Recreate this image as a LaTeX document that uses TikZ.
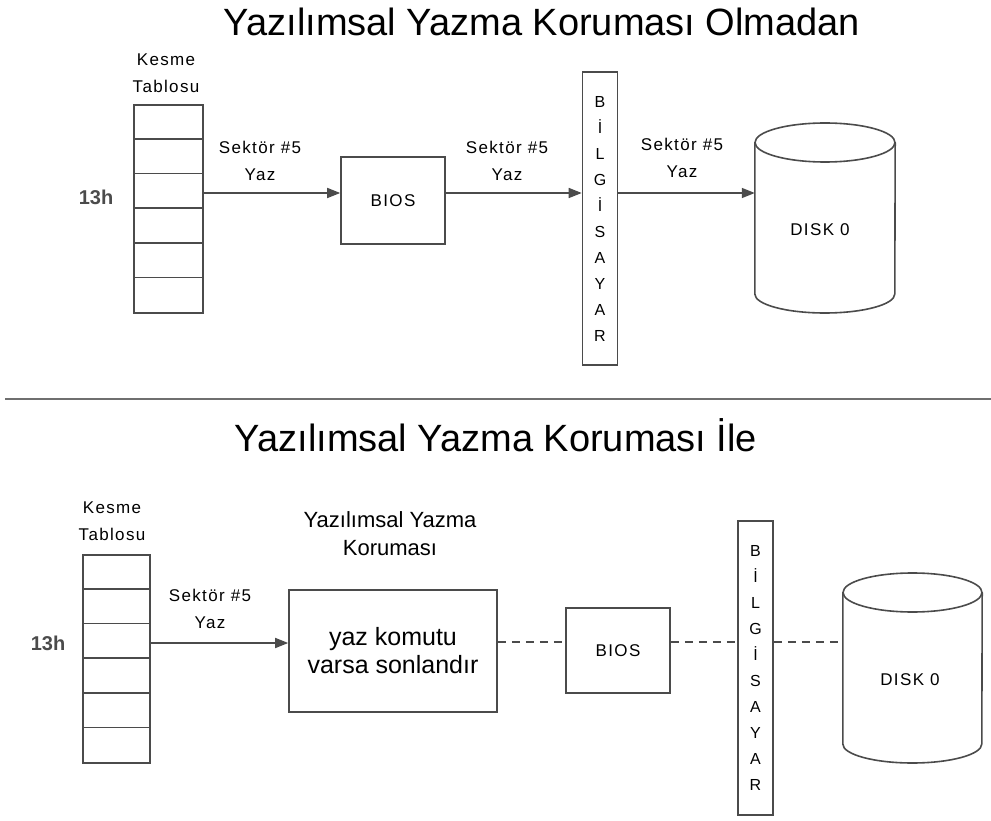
\documentclass[tikz,border=0pt]{standalone}
\usepackage{fontspec}
\setmainfont{Liberation Sans}
\newfontfamily\lsfont[LetterSpace=8]{Liberation Sans}
\usetikzlibrary{arrows.meta}
\definecolor{ln}{RGB}{75,75,75}
\begin{document}
\begin{tikzpicture}[x=1pt,y=-1pt,
  box/.style={draw=ln,line width=1.6pt,rectangle,inner sep=0pt},
  lbl/.style={font=\lsfont\fontsize{17}{27}\selectfont,align=center,inner sep=0pt},
  barstyle/.style={box,minimum width=35pt,font=\lsfont\fontsize{16}{26}\selectfont,align=center},
  title/.style={anchor=base,font=\fontsize{38}{40}\selectfont,inner sep=0pt},
  conn/.style={draw=ln,line width=1.6pt},
  arr/.style={conn,-{Triangle[length=13pt,width=10pt]}},
  dashconn/.style={conn,dash pattern=on 8pt off 6pt},
  hnum/.style={font=\bfseries\fontsize{20}{24}\selectfont,inner sep=0pt,text=ln}
]
\useasboundingbox (0,0) rectangle (991,821);

% ---------------- top part ----------------
\node[title] (t1) at (542,36) {Yazılımsal Yazma Koruması Olmadan};

\node[lbl] (kt1) at (166,73) {Kesme\\Tablosu};
\node[box,minimum width=69pt,minimum height=208pt] (tab1) at (168.5,209) {};
\foreach \i in {1,...,5}
  \draw[conn] ([yshift=-\i*34.67pt]tab1.north west) -- ([yshift=-\i*34.67pt]tab1.north east);
\node[hnum] (h1) at (96,197) {13h};

\node[box,minimum width=104pt,minimum height=87pt,font=\lsfont\fontsize{17}{20}\selectfont] (bios1) at (393,200.5) {BIOS};
\node[barstyle,minimum height=293pt] (bar1) at (600,218.5) {B\\İ\\L\\G\\İ\\S\\A\\Y\\A\\R};
\node[minimum width=140pt,minimum height=190pt,inner sep=0pt] (disk1) at (825,218) {};
\coordinate (c1top) at (0,142.5);
\coordinate (c1bot) at (0,294);
\draw[conn] (disk1.west |- c1top) -- (disk1.west |- c1bot)
   arc[start angle=180,end angle=360,x radius=70pt,y radius=19pt] -- (disk1.east |- c1top);
\draw[conn] (disk1.north |- c1top) ellipse[x radius=70pt,y radius=19.5pt];
\node[lbl] (dl1) at (820,230) {DISK 0};

\coordinate (y1) at (0,193);
\draw[arr] (tab1.east |- y1) -- (bios1.west |- y1);
\draw[arr] (bios1.east |- y1) -- (bar1.west |- y1);
\draw[arr] (bar1.east |- y1) -- (disk1.west |- y1);
\node[lbl] (s1) at (260,161) {Sektör \#5\\Yaz};
\node[lbl] (s2) at (507,161) {Sektör \#5\\Yaz};
\node[lbl] (s3) at (682,158) {Sektör \#5\\Yaz};

% separator
\draw[draw=ln!80,line width=2pt] (5,399) -- (991,399);

% ---------------- bottom part ----------------
\node[title] (t2) at (496,451) {Yazılımsal Yazma Koruması İle};

\node[lbl] (kt2) at (112,521) {Kesme\\Tablosu};
\node[box,minimum width=67pt,minimum height=208pt] (tab2) at (116.5,659) {};
\foreach \i in {1,...,5}
  \draw[conn] ([yshift=-\i*34.67pt]tab2.north west) -- ([yshift=-\i*34.67pt]tab2.north east);
\node[hnum] (h2) at (48,643) {13h};

\node[font=\fontsize{22}{28}\selectfont,align=center,inner sep=0pt] (pl) at (390,534) {Yazılımsal Yazma\\Koruması};
\node[box,minimum width=208pt,minimum height=122pt,font=\fontsize{25}{28}\selectfont,align=center] (prot) at (393,651) {yaz komutu\\varsa sonlandır};
\node[box,minimum width=104pt,minimum height=85pt,font=\lsfont\fontsize{17}{20}\selectfont] (bios2) at (618,650.5) {BIOS};
\node[barstyle,minimum height=294pt] (bar2) at (755.5,668) {B\\İ\\L\\G\\İ\\S\\A\\Y\\A\\R};
\node[minimum width=139pt,minimum height=190pt,inner sep=0pt] (disk2) at (912.5,668) {};
\coordinate (c2top) at (0,592.5);
\coordinate (c2bot) at (0,744);
\draw[conn] (disk2.west |- c2top) -- (disk2.west |- c2bot)
   arc[start angle=180,end angle=360,x radius=69.5pt,y radius=19pt] -- (disk2.east |- c2top);
\draw[conn] (disk2.north |- c2top) ellipse[x radius=69.5pt,y radius=19.5pt];
\node[lbl] (dl2) at (910,680) {DISK 0};

\coordinate (y2) at (0,643);
\coordinate (y3) at (0,642);
\draw[arr] (tab2.east |- y2) -- (prot.west |- y2);
\draw[dashconn] (prot.east |- y3) -- (bios2.west |- y3);
\draw[dashconn] (bios2.east |- y3) -- (bar2.west |- y3);
\draw[dashconn] (bar2.east |- y3) -- (disk2.west |- y3);
\node[lbl] (s4) at (210,609) {Sektör \#5\\Yaz};
\end{tikzpicture}
\end{document}
